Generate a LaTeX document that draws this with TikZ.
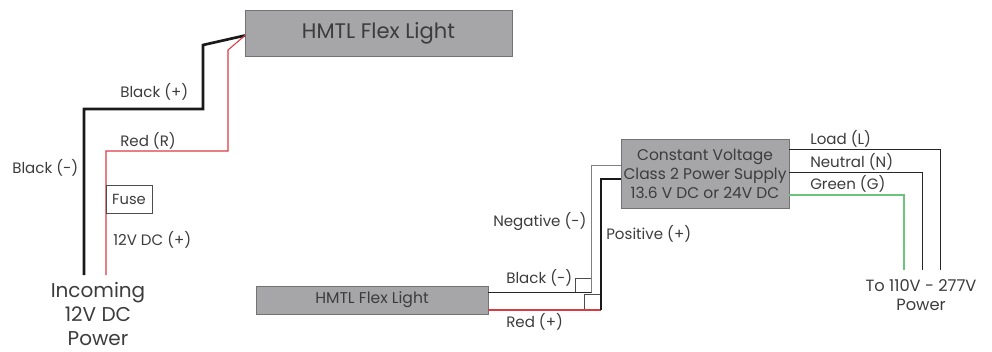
\documentclass[tikz,border=0pt]{standalone}
\usepackage{fontspec}
\setmainfont{Poppins}
\usetikzlibrary{calc,positioning}
\definecolor{boxgray}{HTML}{A6A6A8}
\definecolor{wirered}{HTML}{DC3A42}
\definecolor{wiregreen}{HTML}{6CC47C}
\definecolor{textgray}{HTML}{3C3C3E}
\tikzset{%
	lightbox/.style = {draw=black!55, fill=boxgray, line width=.7pt, inner sep=0pt, text=textgray, align=center},
	tag/.style      = {inner sep=0pt, text=textgray, font=\fontsize{11.3}{11.3}\selectfont},
	tagbig/.style   = {inner sep=0pt, text=textgray, align=center},
	termbox/.style  = {draw=black!70, line width=.5pt, inner sep=0pt},
	thickblack/.style = {line width=2pt, draw=black!90},
	thinblack/.style  = {line width=.7pt, draw=black!85},
	thinred/.style    = {line width=.8pt, draw=wirered},
	thickred/.style   = {line width=1.5pt, draw=wirered},
	thingreen/.style  = {line width=.9pt, draw=wiregreen},
}
\begin{document}
\begin{tikzpicture}[x=.75pt,y=-.75pt]
	\useasboundingbox (0,0) rectangle (992,351);
	% upper circuit
	\node[lightbox,minimum width=200.25pt,minimum height=34.5pt,font=\fontsize{15.8}{15.8}\selectfont] (flextop) at (378.5,33) {HMTL Flex Light};
	\coordinate (topin) at (245,35.5);
	\coordinate (blacka) at (84,275);
	\coordinate (blackb) at (84,109);
	\coordinate (blackc) at (203,109);
	\coordinate (blackd) at (203,45);
	\coordinate (reda) at (106,275);
	\coordinate (redb) at (106,151);
	\coordinate (redc) at (228,151);
	\coordinate (redd) at (228,50);
	\draw[thickblack] (blacka) -- (blackb) -- (blackc) -- (blackd) -- (topin);
	\draw[thinred] (reda) -- (redb) -- (redc) -- (redd) -- (topin);
	\node[termbox,fill=white,minimum width=34.5pt,minimum height=21pt,font=\fontsize{11}{11}\selectfont,text=textgray] (fuse) at (129,199) {Fuse};
	\node[tag,anchor=west] (lblackplus) at (120,92) {Black (+)};
	\node[tag,anchor=west] (lredr) at (120,141) {Red (R)};
	\node[tag,anchor=west] (lblackminus) at (12,168) {Black (-)};
	\node[tag,anchor=west] (ldc) at (113,240) {12V DC (+)};
	\node[tagbig,font=\fontsize{15}{18.2}\selectfont] (incoming) at (98,314) {Incoming\\12V DC\\Power};
	% lower circuit
	\node[lightbox,minimum width=174pt,minimum height=21pt,font=\fontsize{11.7}{11.7}\selectfont] (flexlow) at (372,300) {HMTL Flex Light};
	\node[lightbox,minimum width=126pt,minimum height=51.75pt,font=\fontsize{11.6}{14.25}\selectfont] (supply) at (705,173.5) {Constant Voltage\\Class 2 Power Supply\\13.6 V DC or 24V DC};
	\node[termbox,minimum width=12pt,minimum height=10.5pt] (termneg) at (583,285) {};
	\node[termbox,minimum width=12pt,minimum height=11.25pt] (termpos) at (592,301.5) {};
	\coordinate (nega) at (488,292);
	\coordinate (negb) at (591,292);
	\coordinate (negc) at (591,165);
	\coordinate (nege) at (621,165);
	\coordinate (posa) at (488,310);
	\coordinate (posb) at (601,310);
	\coordinate (posc) at (601,179);
	\coordinate (pose) at (621,179);
	\draw[thinblack] (nega) -- (negb);
	\draw[thinblack,draw=black!50] (negb) -- (negc) -- (nege);
	\draw[thickred] (posa) -- (posb);
	\draw[line width=1.6pt,draw=black!90] (posb) -- (posc) -- (pose);
	\node[tag,anchor=west] (lblack) at (506,278) {Black (-)};
	\node[tag,anchor=west] (lred) at (506,322) {Red (+)};
	\node[tag,anchor=west] (lneg) at (493,221) {Negative (-)};
	\node[tag,anchor=west] (lpos) at (606,234) {Positive (+)};
	% mains side
	\coordinate (loada) at (789,149);
	\coordinate (loadb) at (940,149);
	\coordinate (loadc) at (940,270);
	\coordinate (neua) at (789,172);
	\coordinate (neub) at (922,172);
	\coordinate (neuc) at (922,270);
	\coordinate (grna) at (789,195);
	\coordinate (grnb) at (904,195);
	\coordinate (grnc) at (904,270);
	\draw[thinblack] (loada) -- (loadb) -- (loadc);
	\draw[thinblack] (neua) -- (neub) -- (neuc);
	\draw[thingreen] (grna) -- (grnb) -- (grnc);
	\node[tag,anchor=west] (lload) at (810,139) {Load (L)};
	\node[tag,anchor=west] (lneutral) at (810,162) {Neutral (N)};
	\node[tag,anchor=west] (lgreen) at (810,184) {Green (G)};
	\node[tagbig,font=\fontsize{12.2}{14.3}\selectfont] (mains) at (921,295) {To 110V - 277V\\Power};
\end{tikzpicture}
\end{document}
